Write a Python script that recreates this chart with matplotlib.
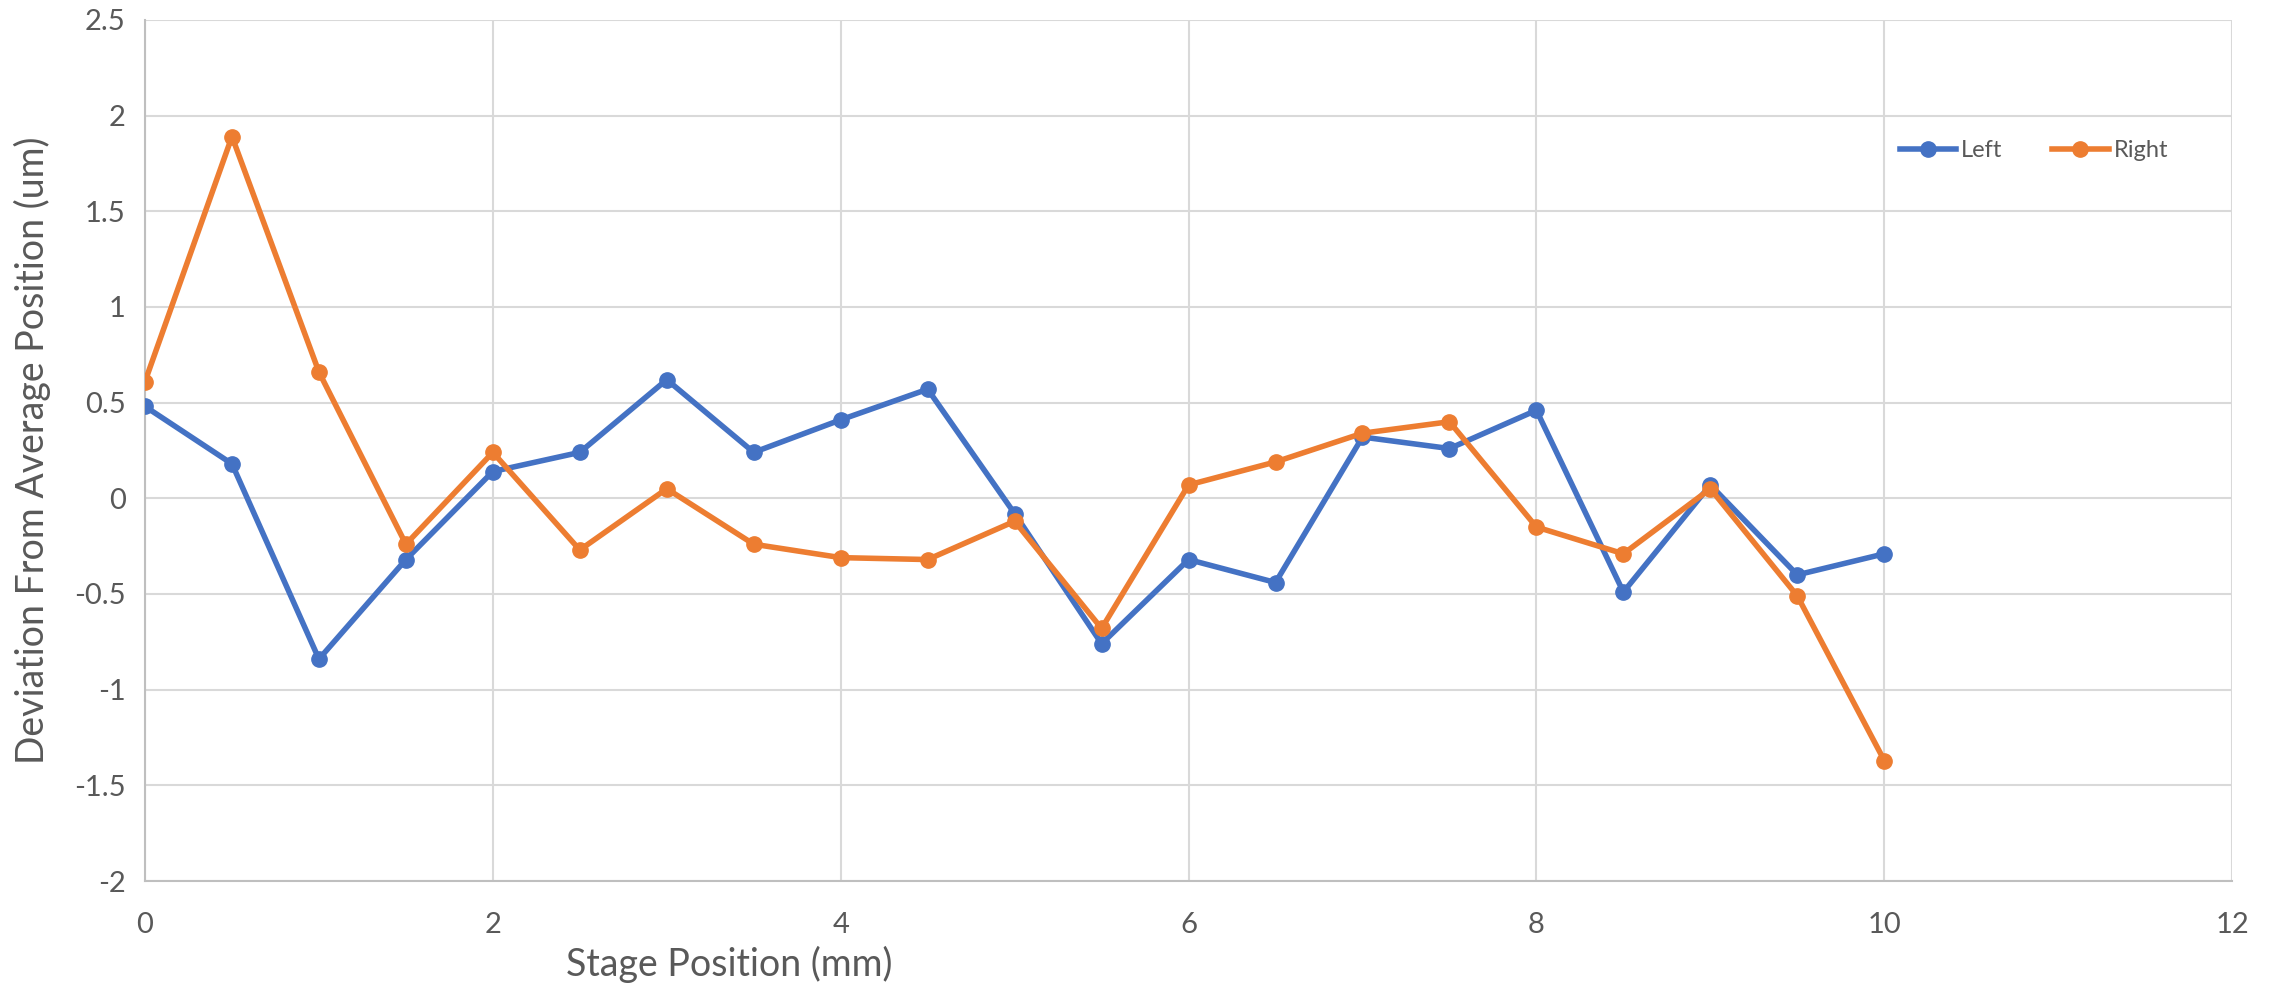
import numpy as np
import matplotlib.pyplot as plt

plt.rcParams['font.family'] = ['Lato', 'DejaVu Sans']

# stage positions (mm)
pos = [0, 0.5, 1, 1.5, 2, 2.5, 3, 3.5, 4, 4.5, 5, 5.5, 6, 6.5, 7, 7.5, 8, 8.5, 9, 9.5, 10]
left = [0.48, 0.18, -0.84, -0.32, 0.14, 0.24, 0.62, 0.24, 0.41, 0.57, -0.08,
        -0.76, -0.32, -0.44, 0.32, 0.26, 0.46, -0.49, 0.07, -0.40, -0.29]
right = [0.61, 1.89, 0.66, -0.24, 0.24, -0.27, 0.05, -0.24, -0.31, -0.32, -0.12,
         -0.68, 0.07, 0.19, 0.34, 0.40, -0.15, -0.29, 0.05, -0.51, -1.37]
xticks = [0, 2, 4, 6, 8, 10, 12]
yticks = [-2, -1.5, -1, -0.5, 0, 0.5, 1, 1.5, 2, 2.5]
ytick_labels = ["-2", "-1.5", "-1", "-0.5", "0", "0.5", "1", "1.5", "2", "2.5"]

fig = plt.figure(figsize=(22.8, 9.9), dpi=100)
ax = fig.add_axes([0.0636, 0.11, 0.9154, 0.87])

ax.plot(pos, left, color="#4472C4", lw=4, marker='o', markersize=11, label="Left", zorder=3)
ax.plot(pos, right, color="#ED7D31", lw=4, marker='o', markersize=11, label="Right", zorder=3)

ax.set_xlim(0, 12)
ax.set_ylim(-2, 2.5)
ax.set_xticks(xticks)
ax.set_yticks(yticks)
ax.set_yticklabels(ytick_labels)
ax.grid(True, color="#D9D9D9", lw=1.5)
ax.set_axisbelow(True)
ax.tick_params(length=0, labelsize=21, labelcolor="#595959")
ax.tick_params(axis='x', pad=22)
ax.tick_params(axis='y', pad=14)

for s in ["top", "right"]:
    ax.spines[s].set_visible(False)
for s in ["left", "bottom"]:
    ax.spines[s].set_color("#BFBFBF")
    ax.spines[s].set_linewidth(1.5)

ax.set_xlabel("Stage Position (mm)", fontsize=27, color="#595959")
ax.set_ylabel("Deviation From Average Position (um)", fontsize=27, color="#595959")
ax.xaxis.set_label_coords(0.28, -0.075)
ax.yaxis.set_label_coords(-0.045, 0.5)

ax.legend(loc="center", bbox_to_anchor=(0.905, 0.848), ncol=2, frameon=False,
          fontsize=17, labelcolor="#595959", handlelength=2.4, handletextpad=0.2,
          columnspacing=2.1)

fig.savefig("out.png", dpi=100)
